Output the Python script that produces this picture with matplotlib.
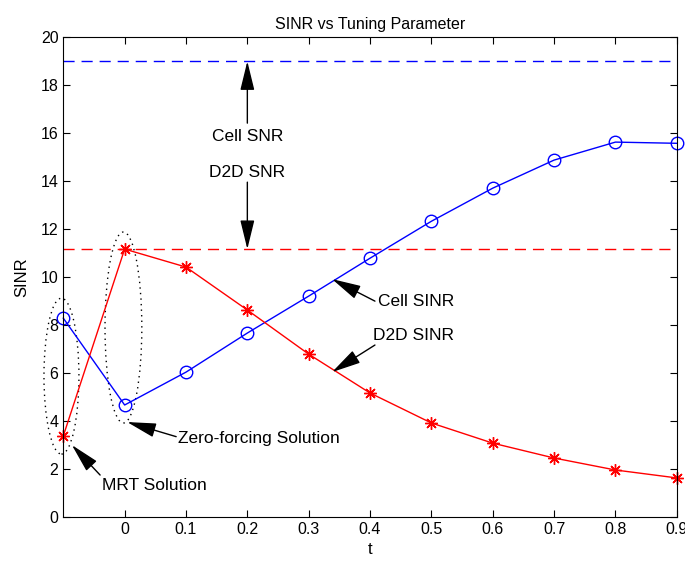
import matplotlib
matplotlib.use("Agg")
import matplotlib.pyplot as plt
from matplotlib.patches import Ellipse

t = [-0.1, 0.0, 0.1, 0.2, 0.3, 0.4, 0.5, 0.6, 0.7, 0.8, 0.9]
cell_sinr = [8.29, 4.67, 6.04, 7.67, 9.21, 10.79, 12.33, 13.71, 14.88, 15.63, 15.58]
d2d_sinr = [3.38, 11.17, 10.42, 8.63, 6.79, 5.17, 3.92, 3.08, 2.46, 1.96, 1.63]
cell_snr = 19.0
d2d_snr = 11.17
xticks = [0, 0.1, 0.2, 0.3, 0.4, 0.5, 0.6, 0.7, 0.8, 0.9]
xtick_labels = ["0", "0.1", "0.2", "0.3", "0.4", "0.5", "0.6", "0.7", "0.8", "0.9"]
yticks = [0, 2, 4, 6, 8, 10, 12, 14, 16, 18, 20]

plt.rcParams['font.family'] = ['Liberation Sans', 'DejaVu Sans']
fig = plt.figure(figsize=(6.85, 5.64), dpi=100)
ax = fig.add_axes([0.0924, 0.0833, 0.8956, 0.8506])

ax.axhline(cell_snr, color='blue', ls=(0, (8, 5)), lw=1)
ax.axhline(d2d_snr, color='red', ls=(0, (8, 5)), lw=1)
ax.plot(t, cell_sinr, color='blue', marker='o', mfc='none', ms=9, lw=1, mew=1, clip_on=False)
ax.plot(t, d2d_sinr, color='red', marker=(8, 2, 0), ms=9, lw=1, mew=1, clip_on=False)

ax.add_patch(Ellipse((-0.103, 5.875), 0.057, 6.5, fill=False, ls=(0, (1, 3)), lw=1,
                     color='k', clip_on=False))
ax.add_patch(Ellipse((-0.002, 7.9), 0.06, 7.96, fill=False, ls=(0, (1, 3)), lw=1,
                     color='k', clip_on=False))

ap = dict(arrowstyle='-|>,head_length=0.9,head_width=0.22', color='k', lw=1,
          shrinkA=0, shrinkB=0, mutation_scale=20)
fs = 12.5
ax.annotate('', xy=(0.2, 19.0), xytext=(0.2, 16.42), arrowprops=ap)
ax.text(0.2, 15.88, 'Cell SNR', ha='center', va='center', fontsize=fs)
ax.text(0.2, 14.38, 'D2D SNR', ha='center', va='center', fontsize=fs)
ax.annotate('', xy=(0.2, 11.17), xytext=(0.2, 13.96), arrowprops=ap)

ax.annotate('', xy=(0.338, 9.92), xytext=(0.408, 9.0), arrowprops=ap)
ax.text(0.413, 9.0, 'Cell SINR', ha='left', va='center', fontsize=fs)
ax.annotate('', xy=(0.338, 6.04), xytext=(0.408, 7.17), arrowprops=ap)
ax.text(0.405, 7.58, 'D2D SINR', ha='left', va='center', fontsize=fs)

ax.annotate('', xy=(0.004, 3.96), xytext=(0.084, 3.35), arrowprops=ap)
ax.text(0.087, 3.29, 'Zero-forcing Solution', ha='left', va='center', fontsize=fs)
ax.annotate('', xy=(-0.086, 3.0), xytext=(-0.04, 1.75), arrowprops=ap)
ax.text(-0.037, 1.33, 'MRT Solution', ha='left', va='center', fontsize=fs)

ax.set_xlim(-0.1, 0.9)
ax.set_ylim(0, 20)
ax.set_xticks(xticks)
ax.set_xticklabels(xtick_labels)
ax.set_yticks(yticks)
ax.tick_params(direction='in', top=True, right=True, labelsize=11.5, length=5)
ax.set_xlabel('t', fontsize=12)
ax.set_ylabel('SINR', fontsize=12, labelpad=8)
ax.set_title('SINR vs Tuning Parameter', fontsize=11.5)

fig.savefig('out.png', dpi=100)
